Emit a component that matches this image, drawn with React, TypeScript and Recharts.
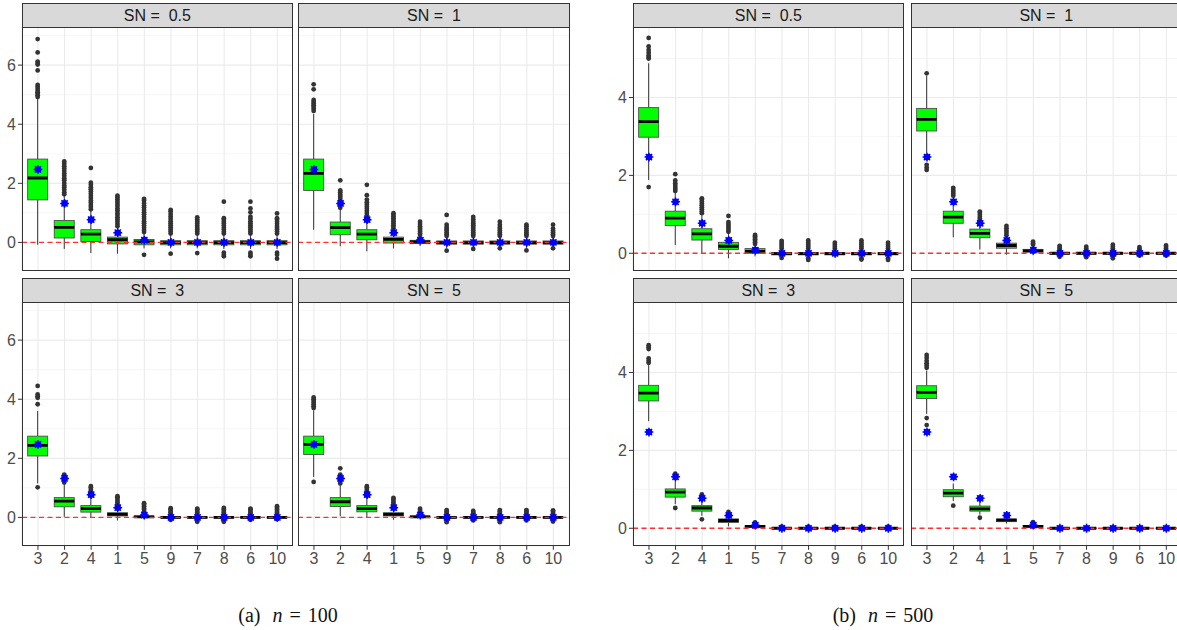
import React from "react";
import { ComposedChart, Bar, Line, XAxis, YAxis, CartesianGrid, ReferenceLine } from "recharts";

// categories (x order differs between the two figures)
const catsN100 = ["3", "2", "4", "1", "5", "9", "7", "8", "6", "10"];
const catsN500 = ["3", "2", "4", "1", "5", "7", "8", "9", "6", "10"];
// true value per category (blue stars), same order in both figures
const truthValues = [2.47, 1.32, 0.77, 0.33, 0.08, 0, 0, 0, 0, 0];

const ticksN100 = [0, 2, 4, 6];
const minorN100 = [1, 3, 5, 7];
const domainN100: [number, number] = [-0.96, 7.29];
const ticksN500 = [0, 2, 4];
const minorN500 = [1, 3, 5];
const domainN500: [number, number] = [-0.45, 5.81];

const snLabels = ["0.5", "1", "3", "5"];

// ---- n = 100, SN = 0.5
const a1Low = [-0.08, -0.22, -0.36, -0.38, -0.2, -0.2, -0.2, -0.22, -0.22, -0.22];
const a1Q1 = [1.44, 0.15, 0.03, -0.05, -0.08, -0.08, -0.08, -0.08, -0.08, -0.08];
const a1Med = [2.18, 0.51, 0.28, 0.09, 0.02, -0.01, -0.01, -0.01, -0.01, -0.01];
const a1Q3 = [2.82, 0.74, 0.43, 0.18, 0.1, 0.06, 0.06, 0.06, 0.06, 0.06];
const a1High = [4.85, 1.6, 1.08, 0.52, 0.3, 0.25, 0.25, 0.25, 0.25, 0.25];
const a1Out = [
  [4.92, 4.98, 5.03, 5.08, 5.13, 5.2, 5.27, 5.33, 5.82, 6.02, 6.07, 6.12, 6.43, 6.88],
  [1.63, 1.7, 1.78, 1.86, 1.93, 2.01, 2.1, 2.17, 2.26, 2.33, 2.42, 2.5, 2.58, 2.66, 2.74],
  [1.12, 1.2, 1.27, 1.35, 1.42, 1.5, 1.57, 1.65, 1.72, 1.8, 1.87, 1.95, 2.02, 2.52],
  [0.55, 0.62, 0.7, 0.78, 0.85, 0.93, 1.0, 1.08, 1.15, 1.23, 1.3, 1.38, 1.45, 1.52, 1.58],
  [0.35, 0.42, 0.5, 0.57, 0.65, 0.72, 0.8, 0.87, 0.95, 1.02, 1.1, 1.18, 1.25, 1.33, 1.42, 1.47, -0.42],
  [0.3, 0.37, 0.44, 0.51, 0.58, 0.65, 0.72, 0.8, 0.88, 0.96, 1.05, 1.1, -0.38],
  [0.3, 0.37, 0.44, 0.5, 0.57, 0.64, 0.71, 0.78, 0.85, -0.36],
  [0.3, 0.36, 0.43, 0.5, 0.57, 0.64, 0.7, 0.77, 0.82, 1.38, -0.35, -0.42, -0.47],
  [0.3, 0.37, 0.44, 0.51, 0.58, 0.65, 0.72, 0.8, 0.87, 1.02, 1.15, 1.38, -0.35, -0.42, -0.47],
  [0.3, 0.37, 0.44, 0.5, 0.56, 0.63, 0.7, 0.77, 0.82, 0.98, -0.35, -0.42, -0.55],
];

// ---- n = 100, SN = 1
const a2Low = [0.43, -0.13, -0.3, -0.2, -0.12, -0.2, -0.15, -0.15, -0.2, -0.15];
const a2Q1 = [1.76, 0.26, 0.09, -0.02, -0.04, -0.06, -0.06, -0.06, -0.06, -0.06];
const a2Med = [2.34, 0.5, 0.28, 0.1, 0.02, -0.01, -0.01, -0.01, -0.01, -0.01];
const a2Q3 = [2.82, 0.69, 0.43, 0.18, 0.07, 0.05, 0.05, 0.05, 0.05, 0.05];
const a2High = [4.35, 1.1, 0.8, 0.42, 0.2, 0.17, 0.17, 0.17, 0.17, 0.17];
const a2Out = [
  [4.45, 4.52, 4.58, 4.64, 4.7, 4.76, 4.82, 5.18, 5.35],
  [1.17, 1.25, 1.33, 1.4, 1.48, 1.55, 1.62, 1.7, 1.76, 2.1],
  [0.85, 0.92, 1.0, 1.07, 1.14, 1.21, 1.28, 1.36, 1.45, 1.6, 1.95],
  [0.46, 0.52, 0.58, 0.64, 0.7, 0.76, 0.82, 0.88, 0.94, 0.99],
  [0.25, 0.31, 0.37, 0.43, 0.49, 0.55, 0.62, 0.7],
  [0.22, 0.28, 0.34, 0.4, 0.46, 0.52, 0.6, 0.93, -0.28],
  [0.22, 0.28, 0.34, 0.4, 0.46, 0.52, 0.58, 0.64, 0.7, 0.78, 0.86, -0.22],
  [0.22, 0.28, 0.34, 0.4, 0.46, 0.52, 0.6, 0.7, -0.2],
  [0.22, 0.28, 0.34, 0.4, 0.47, 0.55, 0.6, -0.27],
  [0.22, 0.28, 0.34, 0.4, 0.47, 0.6, -0.2],
];

// ---- n = 100, SN = 3
const a3Low = [1.15, 0.02, 0.0, -0.1, -0.05, -0.05, -0.08, -0.08, -0.05, -0.05];
const a3Q1 = [2.08, 0.36, 0.18, 0.05, 0.0, -0.02, -0.02, -0.02, -0.02, -0.02];
const a3Med = [2.44, 0.55, 0.3, 0.1, 0.02, 0.0, 0.0, 0.0, 0.0, 0.0];
const a3Q3 = [2.75, 0.67, 0.4, 0.16, 0.05, 0.02, 0.02, 0.02, 0.02, 0.02];
const a3High = [3.6, 1.12, 0.72, 0.32, 0.15, 0.08, 0.08, 0.08, 0.08, 0.08];
const a3Out = [
  [1.02, 3.83, 4.05, 4.1, 4.16, 4.45],
  [1.18, 1.24, 1.3, 1.36, 1.42, 1.45],
  [0.78, 0.84, 0.9, 0.96, 1.02, 1.06],
  [0.38, 0.44, 0.5, 0.56, 0.62, 0.68, 0.72],
  [0.2, 0.26, 0.32, 0.38, 0.44, 0.48],
  [0.12, 0.17, 0.22, 0.27, 0.31, -0.08],
  [0.12, 0.17, 0.22, 0.27, 0.3, -0.12, -0.15],
  [0.12, 0.17, 0.22, 0.27, 0.32, -0.12, -0.15],
  [0.12, 0.17, 0.22, 0.27, 0.3, -0.08],
  [0.12, 0.17, 0.22, 0.27, 0.33, 0.38, -0.06],
];

// ---- n = 100, SN = 5
const a4Low = [1.37, 0.04, 0.0, -0.08, -0.04, -0.08, -0.06, -0.08, -0.06, -0.08];
const a4Q1 = [2.13, 0.37, 0.19, 0.05, 0.0, -0.02, -0.02, -0.02, -0.02, -0.02];
const a4Med = [2.47, 0.53, 0.3, 0.1, 0.02, 0.0, 0.0, 0.0, 0.0, 0.0];
const a4Q3 = [2.75, 0.67, 0.4, 0.16, 0.05, 0.02, 0.02, 0.02, 0.02, 0.02];
const a4High = [3.62, 1.1, 0.72, 0.32, 0.12, 0.07, 0.07, 0.07, 0.07, 0.07];
const a4Out = [
  [1.2, 3.7, 3.76, 3.82, 3.88, 3.94, 4.0, 4.06],
  [1.15, 1.22, 1.28, 1.34, 1.4, 1.45, 1.66],
  [0.78, 0.84, 0.9, 0.96, 1.02, 1.06],
  [0.38, 0.44, 0.5, 0.56, 0.62, 0.66],
  [0.15, 0.2, 0.25, 0.3],
  [0.1, 0.15, 0.2, 0.25, -0.12, -0.16],
  [0.1, 0.14, 0.18, 0.22, -0.1],
  [0.1, 0.15, 0.2, 0.25, -0.12, -0.16],
  [0.1, 0.15, 0.2, 0.25, -0.1],
  [0.1, 0.15, 0.2, 0.24, -0.1, -0.14],
];

// ---- n = 500, SN = 0.5
const b1Low = [1.88, 0.21, 0.0, -0.13, -0.08, -0.08, -0.08, -0.08, -0.08, -0.08];
const b1Q1 = [2.98, 0.71, 0.34, 0.1, 0.0, -0.04, -0.04, -0.04, -0.04, -0.04];
const b1Med = [3.38, 0.9, 0.5, 0.18, 0.05, -0.01, -0.01, -0.01, -0.01, -0.01];
const b1Q3 = [3.74, 1.08, 0.63, 0.28, 0.12, 0.02, 0.02, 0.02, 0.02, 0.02];
const b1High = [4.88, 1.55, 0.98, 0.5, 0.2, 0.09, 0.09, 0.09, 0.09, 0.09];
const b1Out = [
  [1.7, 5.0, 5.04, 5.08, 5.15, 5.22, 5.31, 5.53],
  [1.6, 1.65, 1.7, 1.75, 1.8, 1.87, 2.03],
  [1.03, 1.08, 1.13, 1.18, 1.23, 1.28, 1.33, 1.38, 1.41],
  [0.55, 0.6, 0.65, 0.7, 0.75, 0.8, 0.96],
  [0.24, 0.28, 0.32, 0.36, 0.4, 0.44, 0.47],
  [0.12, 0.17, 0.22, 0.27, 0.32, -0.12],
  [0.12, 0.17, 0.22, 0.27, 0.33, -0.13, -0.17],
  [0.12, 0.17, 0.22, 0.27],
  [0.12, 0.17, 0.22, 0.27, 0.33, -0.13, -0.16],
  [0.12, 0.17, 0.22, 0.27, -0.13, -0.17],
];

// ---- n = 500, SN = 1
const b2Low = [2.57, 0.41, 0.1, -0.04, -0.05, -0.05, -0.05, -0.04, -0.04, -0.04];
const b2Q1 = [3.14, 0.77, 0.4, 0.13, 0.03, -0.02, -0.02, -0.02, -0.02, -0.02];
const b2Med = [3.44, 0.93, 0.51, 0.2, 0.06, 0.0, 0.0, 0.0, 0.0, 0.0];
const b2Q3 = [3.72, 1.08, 0.62, 0.26, 0.1, 0.02, 0.02, 0.02, 0.02, 0.02];
const b2High = [4.55, 1.42, 0.8, 0.4, 0.18, 0.05, 0.05, 0.05, 0.05, 0.05];
const b2Out = [
  [2.14, 2.2, 2.27, 4.62],
  [1.48, 1.53, 1.58, 1.63, 1.68],
  [0.84, 0.89, 0.94, 0.99, 1.04, 1.07],
  [0.46, 0.52, 0.58, 0.64, 0.7],
  [0.22, 0.26, 0.3],
  [0.08, 0.12, 0.16, 0.19, -0.09],
  [0.08, 0.12, 0.17, -0.1],
  [0.08, 0.12, 0.17, 0.22, -0.09, -0.13],
  [0.08, 0.12, 0.16, -0.06],
  [0.08, 0.12, 0.16, 0.2, -0.06],
];

// ---- n = 500, SN = 3
const b3Low = [2.75, 0.62, 0.32, 0.05, 0.01, -0.02, -0.02, -0.02, -0.02, -0.02];
const b3Q1 = [3.27, 0.8, 0.44, 0.15, 0.03, -0.01, -0.01, -0.01, -0.01, -0.01];
const b3Med = [3.47, 0.93, 0.52, 0.2, 0.05, 0.0, 0.0, 0.0, 0.0, 0.0];
const b3Q3 = [3.67, 1.01, 0.58, 0.24, 0.07, 0.01, 0.01, 0.01, 0.01, 0.01];
const b3High = [4.19, 1.3, 0.78, 0.35, 0.11, 0.03, 0.03, 0.03, 0.03, 0.03];
const b3Out = [
  [4.25, 4.3, 4.36, 4.6, 4.65, 4.7],
  [0.52, 1.35, 1.4],
  [0.23, 0.82, 0.87],
  [0.37, 0.42],
  [0.13, 0.15],
  [0.04],
  [0.04],
  [0.04],
  [0.04],
  [0.04],
];

// ---- n = 500, SN = 5
const b4Low = [2.94, 0.7, 0.35, 0.12, 0.01, -0.02, -0.02, -0.02, -0.02, -0.02];
const b4Q1 = [3.33, 0.81, 0.44, 0.17, 0.03, -0.01, -0.01, -0.01, -0.01, -0.01];
const b4Med = [3.49, 0.9, 0.5, 0.21, 0.05, 0.0, 0.0, 0.0, 0.0, 0.0];
const b4Q3 = [3.66, 0.99, 0.57, 0.24, 0.07, 0.01, 0.01, 0.01, 0.01, 0.01];
const b4High = [4.05, 1.15, 0.7, 0.3, 0.11, 0.03, 0.03, 0.03, 0.03, 0.03];
const b4Out = [
  [2.65, 2.83, 4.12, 4.18, 4.24, 4.3, 4.38, 4.45],
  [0.58],
  [0.27],
  [],
  [0.16],
  [],
  [],
  [],
  [],
  [],
];

// layout
const PW = 271.3;
const PH = 243.8;
const AXW = 22;
const AXH = 28;
const STRIP = 24.5;
const FONT = "'Liberation Sans', Arial, sans-serif";

type Row = {
  cat: string;
  wlo: number;
  q1: number;
  med: number;
  q3: number;
  whi: number;
  out: number[];
  truth: number;
  lo: number;
  hi: number;
};

function buildRows(
  cats: string[],
  low: number[],
  q1: number[],
  med: number[],
  q3: number[],
  high: number[],
  out: number[][]
): Row[] {
  return cats.map((c, i) => ({
    cat: c,
    wlo: low[i],
    q1: q1[i],
    med: med[i],
    q3: q3[i],
    whi: high[i],
    out: out[i],
    truth: truthValues[i],
    lo: Math.min(low[i], ...out[i]),
    hi: Math.max(high[i], ...out[i]),
  }));
}

// whole box plot drawn inside the range bar [lo, hi]
function BoxShape(props: any) {
  const { x, y, width, height, payload } = props;
  if (!payload) return null;
  const top = Math.min(y, y + height);
  const bottom = Math.max(y, y + height);
  const span = payload.hi - payload.lo || 1;
  const py = (v: number) => top + ((payload.hi - v) / span) * (bottom - top);
  const cx = x + width / 2;
  const boxTop = py(payload.q3);
  const boxBot = py(payload.q1);
  return (
    <g>
      <line x1={cx} x2={cx} y1={py(payload.whi)} y2={boxTop} stroke="#333" strokeWidth={1} />
      <line x1={cx} x2={cx} y1={boxBot} y2={py(payload.wlo)} stroke="#333" strokeWidth={1} />
      <rect
        x={x}
        y={boxTop}
        width={width}
        height={Math.max(boxBot - boxTop, 0.5)}
        fill="#00FF00"
        stroke="#4D4D4D"
        strokeWidth={0.9}
      />
      <line x1={x} x2={x + width} y1={py(payload.med)} y2={py(payload.med)} stroke="#000" strokeWidth={2.8} />
      {payload.out.map((v: number, i: number) => (
        <circle key={i} cx={cx} cy={py(v)} r={2.4} fill="#333" />
      ))}
    </g>
  );
}

function TruthMark(props: any) {
  const { cx, cy } = props;
  if (cx == null || cy == null) return null;
  const r = 4.4;
  const d = r * 0.707;
  return (
    <g>
      <circle cx={cx} cy={cy} r={3.3} fill="#0000FF" />
      <line x1={cx - r} x2={cx + r} y1={cy} y2={cy} stroke="#0000FF" strokeWidth={1.5} />
      <line x1={cx} x2={cx} y1={cy - r} y2={cy + r} stroke="#0000FF" strokeWidth={1.5} />
      <line x1={cx - d} x2={cx + d} y1={cy - d} y2={cy + d} stroke="#0000FF" strokeWidth={1.5} />
      <line x1={cx - d} x2={cx + d} y1={cy + d} y2={cy - d} stroke="#0000FF" strokeWidth={1.5} />
    </g>
  );
}

type PanelProps = {
  left: number;
  top: number;
  rows: Row[];
  domain: [number, number];
  ticks: number[];
  minor: number[];
  showY: boolean;
  showX: boolean;
  label: string;
};

function Panel({ left, top, rows, domain, ticks, minor, showY, showX, label }: PanelProps) {
  const w = PW + (showY ? AXW : 0);
  const h = PH + (showX ? AXH : 0);
  const pad = PW / 102;
  return (
    <>
      <div
        style={{
          position: "absolute",
          left,
          top: top - STRIP,
          width: PW,
          height: STRIP + 1,
          boxSizing: "border-box",
          border: "1px solid #333",
          background: "#D9D9D9",
          color: "#1A1A1A",
          fontSize: 16,
          lineHeight: `${STRIP - 1}px`,
          textAlign: "center",
          whiteSpace: "pre",
        }}
      >
        {`SN =  ${label}`}
      </div>
      <div style={{ position: "absolute", left: left - (showY ? AXW : 0), top, width: w, height: h }}>
        <ComposedChart width={w} height={h} data={rows} margin={{ top: 0, right: 0, bottom: 0, left: 0 }}>
          <YAxis yAxisId="minor" hide type="number" domain={domain} ticks={minor} allowDataOverflow />
          <CartesianGrid yAxisId="minor" vertical={false} stroke="#F2F2F2" strokeWidth={0.7} />
          <CartesianGrid stroke="#EBEBEB" strokeWidth={1.1} />
          <XAxis
            dataKey="cat"
            type="category"
            padding={{ left: pad, right: pad }}
            hide={!showX}
            height={AXH}
            axisLine={false}
            tickLine={{ stroke: "#333" }}
            tickSize={4}
            tickMargin={3}
            interval={0}
            tick={{ fill: "#4D4D4D", fontSize: 16 }}
          />
          <YAxis
            type="number"
            domain={domain}
            ticks={ticks}
            allowDataOverflow
            hide={!showY}
            width={AXW}
            axisLine={false}
            tickLine={{ stroke: "#333" }}
            tickSize={4}
            interval={0}
            tick={{ fill: "#4D4D4D", fontSize: 16 }}
          />
          <Bar
            dataKey={(d: Row) => [d.lo, d.hi]}
            barSize={20}
            shape={BoxShape}
            isAnimationActive={false}
          />
          <ReferenceLine y={0} stroke="#FF3030" strokeDasharray="5 3.5" strokeWidth={1.3} />
          <Line
            dataKey="truth"
            stroke="none"
            dot={(p: any) => <TruthMark key={p.index} {...p} />}
            activeDot={false}
            isAnimationActive={false}
          />
        </ComposedChart>
      </div>
      <div
        style={{
          position: "absolute",
          left,
          top,
          width: PW,
          height: PH,
          boxSizing: "border-box",
          border: "1px solid #333",
          pointerEvents: "none",
        }}
      />
    </>
  );
}

function Caption({ center, tag, n }: { center: number; tag: string; n: string }) {
  return (
    <div
      style={{
        position: "absolute",
        left: center - 100,
        width: 200,
        top: 602,
        height: 26,
        lineHeight: "26px",
        textAlign: "center",
        fontFamily: "'Liberation Serif', 'Times New Roman', serif",
        fontSize: 20,
        color: "#111",
      }}
    >
      <span>{tag}</span>
      <i style={{ marginLeft: 12 }}>n</i>
      <span style={{ margin: "0 7px" }}>=</span>
      <span>{n}</span>
    </div>
  );
}

export default function App() {
  const aRows = [
    buildRows(catsN100, a1Low, a1Q1, a1Med, a1Q3, a1High, a1Out),
    buildRows(catsN100, a2Low, a2Q1, a2Med, a2Q3, a2High, a2Out),
    buildRows(catsN100, a3Low, a3Q1, a3Med, a3Q3, a3High, a3Out),
    buildRows(catsN100, a4Low, a4Q1, a4Med, a4Q3, a4High, a4Out),
  ];
  const bRows = [
    buildRows(catsN500, b1Low, b1Q1, b1Med, b1Q3, b1High, b1Out),
    buildRows(catsN500, b2Low, b2Q1, b2Med, b2Q3, b2High, b2Out),
    buildRows(catsN500, b3Low, b3Q1, b3Med, b3Q3, b3High, b3Out),
    buildRows(catsN500, b4Low, b4Q1, b4Med, b4Q3, b4High, b4Out),
  ];
  const lefts = [21.7, 298.3];
  const leftsB = [632.7, 910.7];
  const tops = [27.2, 302.3];
  return (
    <div
      style={{
        position: "absolute",
        left: 0,
        top: 0,
        width: 1177,
        height: 630,
        overflow: "hidden",
        background: "#fff",
        fontFamily: FONT,
      }}
    >
      {aRows.map((rows, i) => (
        <Panel
          key={`a${i}`}
          left={lefts[i % 2]}
          top={tops[Math.floor(i / 2)]}
          rows={rows}
          domain={domainN100}
          ticks={ticksN100}
          minor={minorN100}
          showY={i % 2 === 0}
          showX={i >= 2}
          label={snLabels[i]}
        />
      ))}
      {bRows.map((rows, i) => (
        <Panel
          key={`b${i}`}
          left={leftsB[i % 2]}
          top={tops[Math.floor(i / 2)]}
          rows={rows}
          domain={domainN500}
          ticks={ticksN500}
          minor={minorN500}
          showY={i % 2 === 0}
          showX={i >= 2}
          label={snLabels[i]}
        />
      ))}
      <Caption center={288} tag="(a)" n="100" />
      <Caption center={883} tag="(b)" n="500" />
    </div>
  );
}
